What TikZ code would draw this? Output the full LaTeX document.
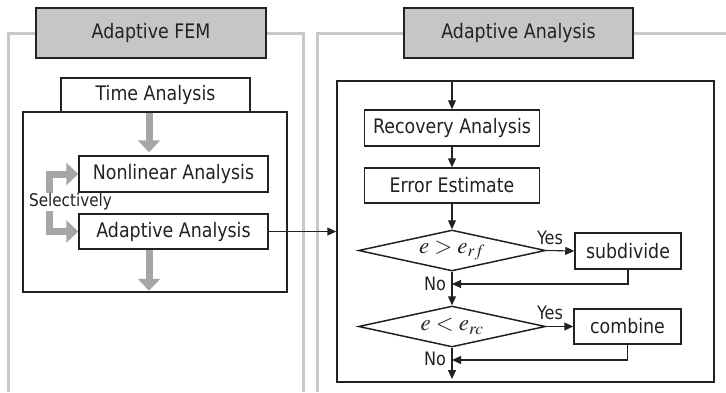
\documentclass[tikz,border=0pt]{standalone}
\usepackage{mathptmx}
\usepackage{fontspec}
\setmainfont{DejaVu Sans}[FakeStretch=0.87]
\usetikzlibrary{arrows.meta,shapes.geometric}
\definecolor{panelgray}{HTML}{C8C8C8}
\definecolor{headfill}{HTML}{C6C6C6}
\definecolor{fatgray}{HTML}{A6A6A6}
\definecolor{ink}{HTML}{222222}
\begin{document}
\begin{tikzpicture}[x=1pt,y=-1pt,
  panel/.style={draw=panelgray,line width=3pt},
  header/.style={draw=ink,fill=headfill,line width=1.5pt,inner sep=0pt,
    text=ink,font=\fontsize{20}{24}\selectfont},
  box/.style={draw=ink,fill=white,line width=1.5pt,inner sep=0pt,
    text=ink,font=\fontsize{20}{24}\selectfont},
  frame/.style={draw=ink,line width=1.5pt,inner sep=0pt},
  test/.style={diamond,aspect=4.5,draw=ink,fill=white,line width=1.5pt,inner sep=0pt,
    minimum width=187pt,minimum height=41pt,text=ink,font=\fontsize{23}{26}\selectfont},
  label/.style={text=ink,inner sep=0pt,font=\fontsize{18.5}{22}\selectfont},
  fatarrow/.style={draw=fatgray,line width=7pt,line join=miter,
    -{Triangle[width=22pt,length=12pt]}},
  arr/.style={draw=ink,line width=1.1pt,-{Triangle[width=8pt,length=9pt]}},
  line/.style={draw=ink,line width=1.1pt}]
\useasboundingbox (0,0) rectangle (726,392);

% open panels in light gray
\draw[panel] (8,392) -- (8,33) -- (303,33) -- (303,392);
\draw[panel] (726,33) -- (317,33) -- (317,392);

% ---- left panel: adaptive FEM ----
\node[header,minimum width=230pt,minimum height=50pt] (hfem) at (151,33) {Adaptive FEM};
\node[frame,minimum width=264pt,minimum height=180pt] (lframe) at (155,202) {};
\node[box,minimum width=189pt,minimum height=34pt] (time) at (155.5,95) {Time Analysis};
\node[box,minimum width=189pt,minimum height=36pt] (nonlin) at (173.5,174) {Nonlinear Analysis};
\node[box,minimum width=189pt,minimum height=35pt] (adaptA) at (173.5,231.5) {Adaptive Analysis};

\coordinate (xa) at (149,0);
\draw[fatarrow,shorten >=3pt] (time.south -| xa) -- (nonlin.north -| xa);
\draw[fatarrow,shorten >=2pt] (adaptA.south -| xa) -- (lframe.south -| xa);

\coordinate (sel) at (49,202);
\draw[fatarrow] (sel) |- (nonlin.west);
\draw[fatarrow] (sel) |- (adaptA.west);
\node[label,fill=white,inner sep=1pt,font=\fontsize{17.5}{20}\selectfont] (selt) at (70.5,202) {Selectively};

% ---- right panel: adaptive analysis ----
\node[header,minimum width=229pt,minimum height=50pt] (hana) at (518.5,33) {Adaptive Analysis};
\node[frame,minimum width=377pt,minimum height=301pt] (rframe) at (525.5,231.5) {};

\node[box,minimum width=175pt,minimum height=36pt] (recov) at (452,128) {Recovery Analysis};
\node[box,minimum width=175pt,minimum height=35pt] (err) at (452,185.5) {Error Estimate};
\node[test] (d1) at (452,250.5) {$e > e_{rf}$};
\node[test] (d2) at (452,326.5) {$e < e_{rc}$};
\node[box,minimum width=106pt,minimum height=36pt] (sub) at (628,251) {subdivide};
\node[box,minimum width=107pt,minimum height=35pt] (comb) at (627.5,326.5) {combine};

\coordinate (j1) at (452,284);
\coordinate (j2) at (452,360);
\coordinate (out) at (452,379);

\draw[arr] (rframe.north -| recov.north) -- (recov.north);
\draw[arr] (recov) -- (err);
\draw[arr] (err) -- (d1);
\draw[arr] (d1.east) -- (sub.west);
\draw[arr] (sub.south) |- (j1);
\draw[arr] (d1.south) -- (d2.north);
\draw[arr] (d2.east) -- (comb.west);
\draw[arr] (comb.south) |- (j2);
\draw[arr] (d2.south) -- (out);

\node[label] (yes1) at (550,238) {Yes};
\node[label] (yes2) at (550,313) {Yes};
\node[label] (no1) at (435,284) {No};
\node[label] (no2) at (435,359) {No};

% hand-over from the FEM loop
\draw[arr] (adaptA.east) -- (rframe.west |- adaptA.east);
\end{tikzpicture}
\end{document}
